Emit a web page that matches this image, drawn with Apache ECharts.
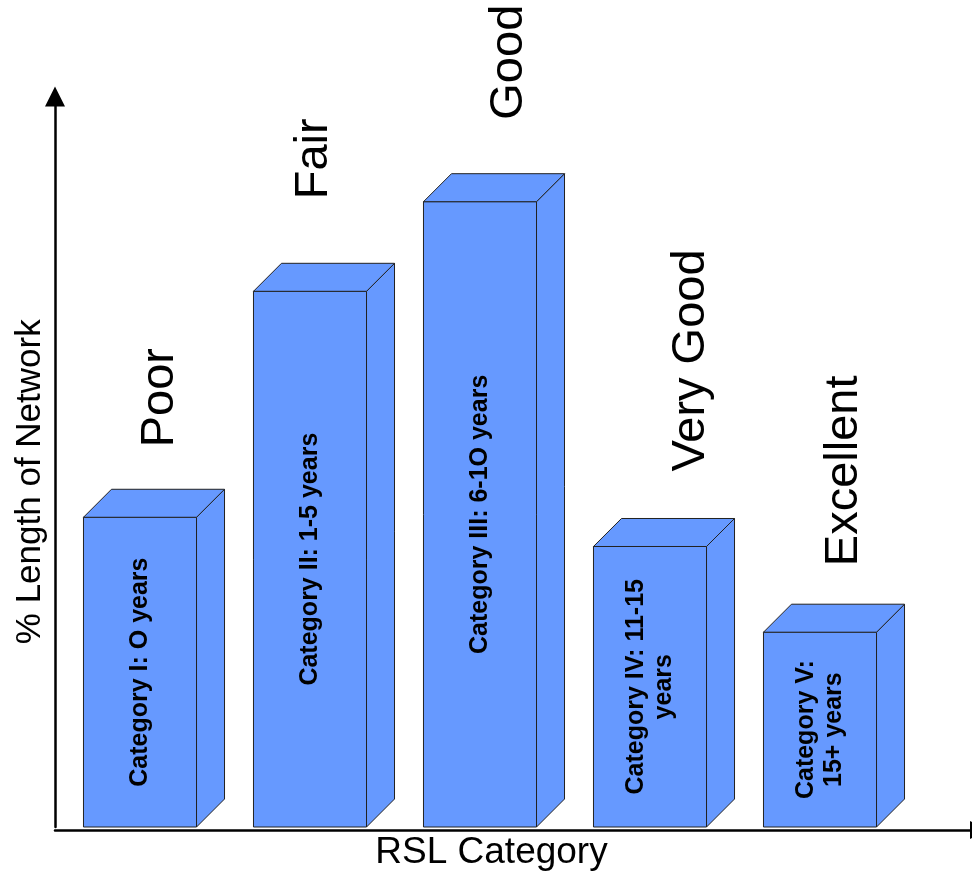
<!DOCTYPE html>
<html>
<head>
<meta charset="utf-8">
<script src="https://cdn.jsdelivr.net/npm/echarts@6/dist/echarts.min.js"></script>
<style>
html,body{margin:0;padding:0;background:#fff;}
#chart{width:972px;height:876px;}
</style>
</head>
<body>
<div id="chart"></div>
<script>
// ---- data ----
const categories = ['Category I', 'Category II', 'Category III', 'Category IV', 'Category V'];
const lengthPct = [15.9, 27.5, 32.1, 14.4, 10.0];
const conditionLabels = ['Poor', 'Fair', 'Good', 'Very Good', 'Excellent'];
const barTexts = ['Category I: O years', 'Category II: 1-5 years', 'Category III: 6-1O years', 'Category IV: 11-15\nyears', 'Category V:\n15+ years'];

// ---- presentation (label placement offsets, px) ----
const labelShiftX = [20, 4, 29, 41, 24];
const labelLift = [70, 92, 82, 75, 66];

const FONT = '"Liberation Sans", Arial, Helvetica, sans-serif';
const chart = echarts.init(document.getElementById('chart'));

function renderItem(params, api) {
  const i = params.dataIndex;
  const top = api.coord([api.value(0), api.value(1)]);
  const base = api.coord([api.value(0), 0]);
  const band = api.size([1, 0])[0];
  const w = band * 0.665;
  const d = 28;
  const xl = top[0] - w / 2, xr = top[0] + w / 2;
  const fill = '#6699FF';
  const edge = { stroke: '#222', lineWidth: 1 };
  return {
    type: 'group',
    children: [
      { type: 'rect', shape: { x: xl, y: top[1], width: w, height: base[1] - top[1] },
        style: Object.assign({ fill: fill }, edge) },
      { type: 'polygon', shape: { points: [[xr, top[1]], [xr + d, top[1] - d], [xr + d, base[1] - d], [xr, base[1]]] },
        style: Object.assign({ fill: fill }, edge) },
      { type: 'polygon', shape: { points: [[xl, top[1]], [xl + d, top[1] - d], [xr + d, top[1] - d], [xr, top[1]]] },
        style: Object.assign({ fill: fill }, edge) },
      { type: 'text', x: top[0], y: (top[1] + base[1]) / 2, rotation: Math.PI / 2,
        style: { text: barTexts[i], fill: '#000', fontFamily: FONT, fontWeight: 'bold', fontSize: 25,
                 lineHeight: 28, align: 'center', verticalAlign: 'middle' } },
      { type: 'text', x: top[0] + labelShiftX[i], y: top[1] - labelLift[i], rotation: Math.PI / 2,
        style: { text: conditionLabels[i], fill: '#000', fontFamily: FONT, fontSize: 47,
                 align: 'left', verticalAlign: 'middle' } }
    ]
  };
}

const option = {
  animation: false,
  backgroundColor: '#fff',
  grid: [
    { left: 55, top: 96.5, width: 850, bottom: 46 },
    { left: 55, top: 96.5, width: 915, bottom: 46 }
  ],
  xAxis: [
    { type: 'category', gridIndex: 0, data: categories, boundaryGap: true,
      axisLine: { show: false }, axisTick: { show: false }, axisLabel: { show: false },
      name: 'RSL Category', nameLocation: 'middle', nameGap: 7,
      nameTextStyle: { fontFamily: FONT, fontSize: 37, color: '#000', padding: [0, 0, 0, 23] } },
    { type: 'value', gridIndex: 1, min: 0, max: 1,
      axisLine: { show: true, lineStyle: { color: '#000', width: 2.5 }, symbol: ['none', 'triangle'],
                  symbolSize: [18, 20], symbolOffset: [0, 10] },
      axisTick: { show: false }, axisLabel: { show: false }, splitLine: { show: false } }
  ],
  yAxis: [
    { type: 'value', gridIndex: 0, min: 0, max: 37.5,
      axisLine: { show: true, lineStyle: { color: '#000', width: 2.5 }, symbol: ['none', 'triangle'], symbolSize: [20, 20] },
      axisTick: { show: false }, axisLabel: { show: false }, splitLine: { show: false },
      name: '% Length of Network', nameLocation: 'middle', nameGap: 7,
      nameTextStyle: { fontFamily: FONT, fontSize: 35, color: '#000', padding: [0, 40, 0, 0] } },
    { type: 'value', gridIndex: 1, min: 0, max: 1, show: false }
  ],
  series: [{
    type: 'custom',
    xAxisIndex: 0, yAxisIndex: 0,
    renderItem: renderItem,
    encode: { x: 0, y: 1 },
    data: categories.map((c, i) => [i, lengthPct[i]])
  }]
};
chart.setOption(option);
</script>
</body>
</html>
